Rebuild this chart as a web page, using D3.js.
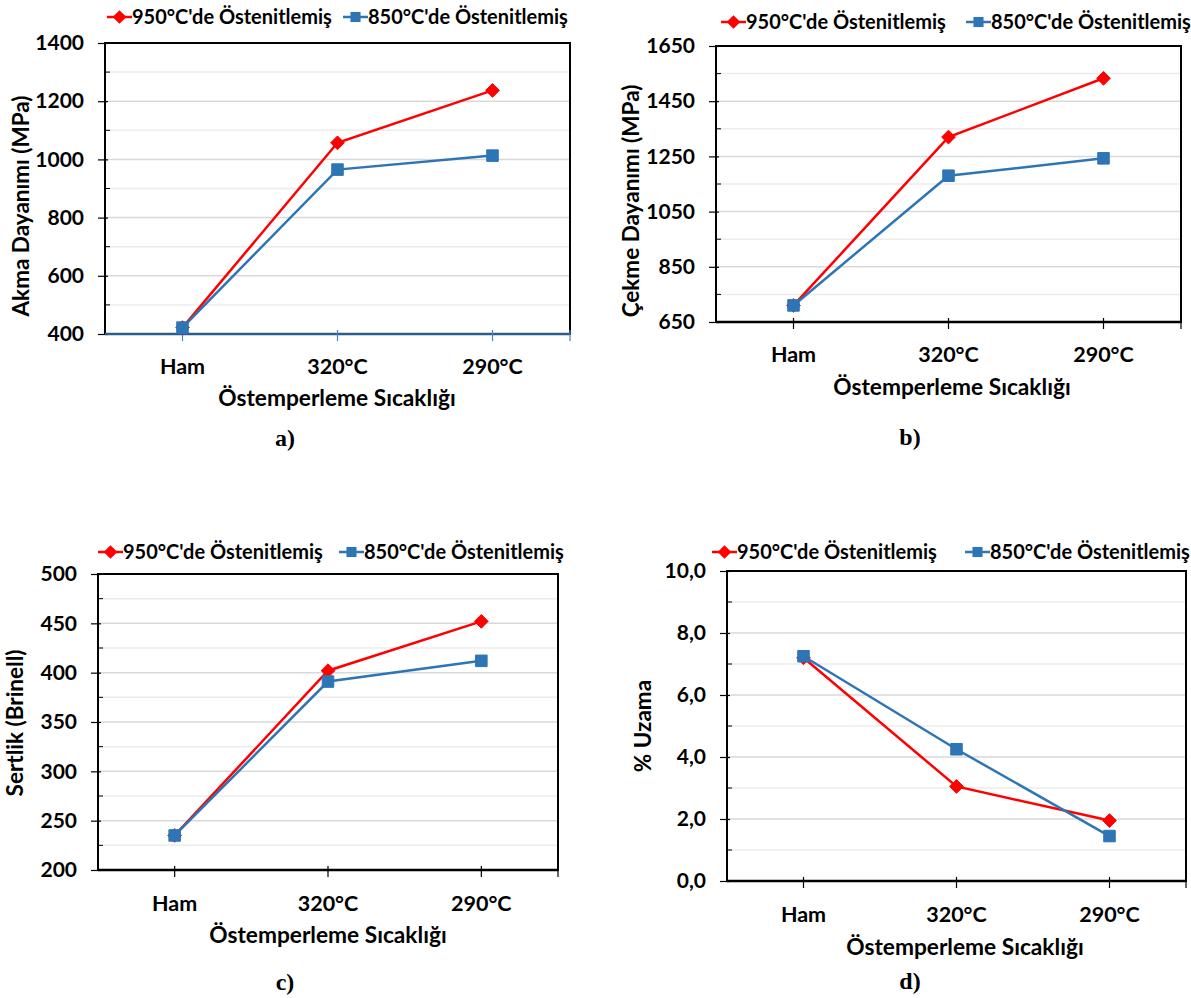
<!DOCTYPE html>
<html>
<head>
<meta charset="utf-8">
<script src="https://cdn.jsdelivr.net/npm/d3@7"></script>
<style>
  body { margin: 0; background: #fff; }
  text { font-family: Lato, "Open Sans", sans-serif; font-weight: bold; fill: #000; }
  .sub { font-family: "Liberation Serif", "DejaVu Serif", serif; font-size: 24px; }
</style>
</head>
<body>
<script>
// categories + series
var categories = ["Ham", "320°C", "290°C"];
var seriesNames = ["950°C'de Östenitlemiş", "850°C'de Östenitlemiş"];
var seriesColors = ["#ff0000", "#2e75b6"];

var akma950 = [422, 1057, 1237];
var akma850 = [422, 965, 1013];
var cekme950 = [710, 1320, 1533];
var cekme850 = [710, 1180, 1243];
var sertlik950 = [235, 402, 452];
var sertlik850 = [235, 391, 412];
var uzama950 = [7.2, 3.05, 1.95];
var uzama850 = [7.25, 4.25, 1.45];

var akmaTicks = [400, 600, 800, 1000, 1200, 1400];
var cekmeTicks = [650, 850, 1050, 1250, 1450, 1650];
var sertlikTicks = [200, 250, 300, 350, 400, 450, 500];
var uzamaTicks = [0, 2, 4, 6, 8, 10];

var width = 1191, height = 998;
var svg = d3.select("body").append("svg")
    .attr("width", width)
    .attr("height", height);

var panels = [
  {left: 105, right: 570, top: 43, bottom: 334, series: [akma950, akma850], ticks: akmaTicks, minor: 100,
   ytitle: "Akma Dayanımı (MPa)", ytx: 29, yty: 206, leg: [107, 343], legY: 17,
   tickY: 374, titleX: 337, titleY: 406, sub: "a)", subX: 285, subY: 446,
   fmt: d3.format("d"), axisColor: "#2e5c8a"},
  {left: 716, right: 1181, top: 46, bottom: 322, series: [cekme950, cekme850], ticks: cekmeTicks, minor: 100,
   ytitle: "Çekme Dayanımı (MPa)", ytx: 639, yty: 201, leg: [721, 966], legY: 22,
   tickY: 362, titleX: 952, titleY: 395, sub: "b)", subX: 910, subY: 445,
   fmt: d3.format("d"), axisColor: "#000"},
  {left: 98, right: 558, top: 574, bottom: 870, series: [sertlik950, sertlik850], ticks: sertlikTicks, minor: 25,
   ytitle: "Sertlik (Brinell)", ytx: 23, yty: 723, leg: [98, 339], legY: 552,
   tickY: 911, titleX: 328, titleY: 943, sub: "c)", subX: 285, subY: 990,
   fmt: d3.format("d"), axisColor: "#000"},
  {left: 727, right: 1186, top: 571, bottom: 881, series: [uzama950, uzama850], ticks: uzamaTicks, minor: 1,
   ytitle: "% Uzama", ytx: 651, yty: 726, leg: [712, 965], legY: 552,
   tickY: 922, titleX: 965, titleY: 955, sub: "d)", subX: 910, subY: 989,
   fmt: function(v) { return d3.format(".1f")(v).replace(".", ","); }, axisColor: "#000"}
];

panels.forEach(drawPanel);

function drawPanel(p) {
  var g = svg.append("g");
  var lo = p.ticks[0], hi = p.ticks[p.ticks.length - 1];

  var x = d3.scalePoint().domain(categories).range([p.left, p.right]).padding(0.5);
  var y = d3.scaleLinear().domain([lo, hi]).range([p.bottom, p.top]);

  // gridlines (minor lighter)
  var minorVals = d3.range(lo, hi + p.minor / 2, p.minor);
  g.selectAll(".grid").data(minorVals).enter().append("line")
      .attr("x1", p.left).attr("x2", p.right)
      .attr("y1", function(d) { return y(d); }).attr("y2", function(d) { return y(d); })
      .attr("stroke", function(d) { return p.ticks.indexOf(d) >= 0 ? "#d9d9d9" : "#ececec"; })
      .attr("stroke-width", 1.5);

  // y axis
  var yAxis = d3.axisLeft(y).tickValues(p.ticks).tickFormat(p.fmt).tickSize(7).tickPadding(14);
  var ya = g.append("g").attr("transform", "translate(" + p.left + ",0)").call(yAxis);
  ya.select(".domain").remove();
  ya.selectAll("line").attr("stroke", "#000").attr("stroke-width", 1.2).attr("x2", -7).attr("x1", 3);
  ya.selectAll("text").style("font-size", "21px");
  // minor ticks inside
  g.selectAll(".mt").data(minorVals.filter(function(d) { return p.ticks.indexOf(d) < 0; })).enter().append("line")
      .attr("x1", p.left).attr("x2", p.left + 5)
      .attr("y1", function(d) { return y(d); }).attr("y2", function(d) { return y(d); })
      .attr("stroke", "#000").attr("stroke-width", 1);

  // frame
  g.append("rect").attr("x", p.left).attr("y", p.top)
      .attr("width", p.right - p.left).attr("height", p.bottom - p.top)
      .attr("fill", "none").attr("stroke", "#000").attr("stroke-width", 2);

  // x axis
  var xa = g.append("g").attr("transform", "translate(0," + p.bottom + ")").call(d3.axisBottom(x).tickSize(0).tickPadding(0));
  xa.select(".domain").remove();
  xa.selectAll("text").remove();
  g.append("line").attr("x1", p.left).attr("x2", p.right).attr("y1", p.bottom).attr("y2", p.bottom)
      .attr("stroke", p.axisColor).attr("stroke-width", 2.5);
  var tickXs = categories.map(function(c) { return x(c); }).concat([p.right]);
  g.selectAll(".xt").data(tickXs).enter().append("line")
      .attr("x1", function(d) { return d; }).attr("x2", function(d) { return d; })
      .attr("y1", p.bottom - 4).attr("y2", p.bottom + 7)
      .attr("stroke", p.axisColor == "#000" ? "#000" : "#4a7fc0").attr("stroke-width", 1.2);
  g.selectAll(".xl").data(categories).enter().append("text")
      .attr("x", function(d) { return x(d); }).attr("y", p.tickY)
      .attr("text-anchor", "middle").style("font-size", "21.5px")
      .text(function(d) { return d; });

  // axis titles
  g.append("text").attr("x", p.titleX).attr("y", p.titleY)
      .attr("text-anchor", "middle").style("font-size", "22.7px").text("Östemperleme Sıcaklığı");
  g.append("text")
      .attr("transform", "translate(" + p.ytx + "," + p.yty + ") rotate(-90)")
      .attr("text-anchor", "middle").style("font-size", "22.5px").text(p.ytitle);

  // lines + markers
  var line = d3.line().x(function(d, i) { return x(categories[i]); }).y(function(d) { return y(d); });
  p.series.forEach(function(s, k) {
    g.append("path").datum(s).attr("d", line).attr("fill", "none")
        .attr("stroke", seriesColors[k]).attr("stroke-width", 2.5);
  });
  p.series.forEach(function(s, k) {
    var sym = d3.symbol().type(k == 0 ? d3.symbolDiamond2 : d3.symbolSquare2).size(k == 0 ? 120 : 170);
    g.selectAll(".m" + k).data(s).enter().append("path")
        .attr("transform", function(d, i) { return "translate(" + x(categories[i]) + "," + y(d) + ")"; })
        .attr("d", sym)
        .attr("fill", seriesColors[k]).attr("stroke", seriesColors[k]).attr("stroke-width", 1);
  });

  // legend
  seriesNames.forEach(function(name, k) {
    var lg = g.append("g").attr("transform", "translate(" + p.leg[k] + "," + p.legY + ")");
    lg.append("line").attr("x1", 0).attr("x2", 25).attr("stroke", seriesColors[k]).attr("stroke-width", 2.5);
    lg.append("path").attr("transform", "translate(12.5,0)")
        .attr("d", d3.symbol().type(k == 0 ? d3.symbolDiamond2 : d3.symbolSquare2).size(k == 0 ? 120 : 130))
        .attr("fill", seriesColors[k]);
    lg.append("text").attr("x", 25).attr("y", 7).style("font-size", "20px").text(name);
  });

  // sub label
  g.append("text").attr("class", "sub").attr("x", p.subX).attr("y", p.subY)
      .attr("text-anchor", "middle").text(p.sub);
}
</script>
</body>
</html>
